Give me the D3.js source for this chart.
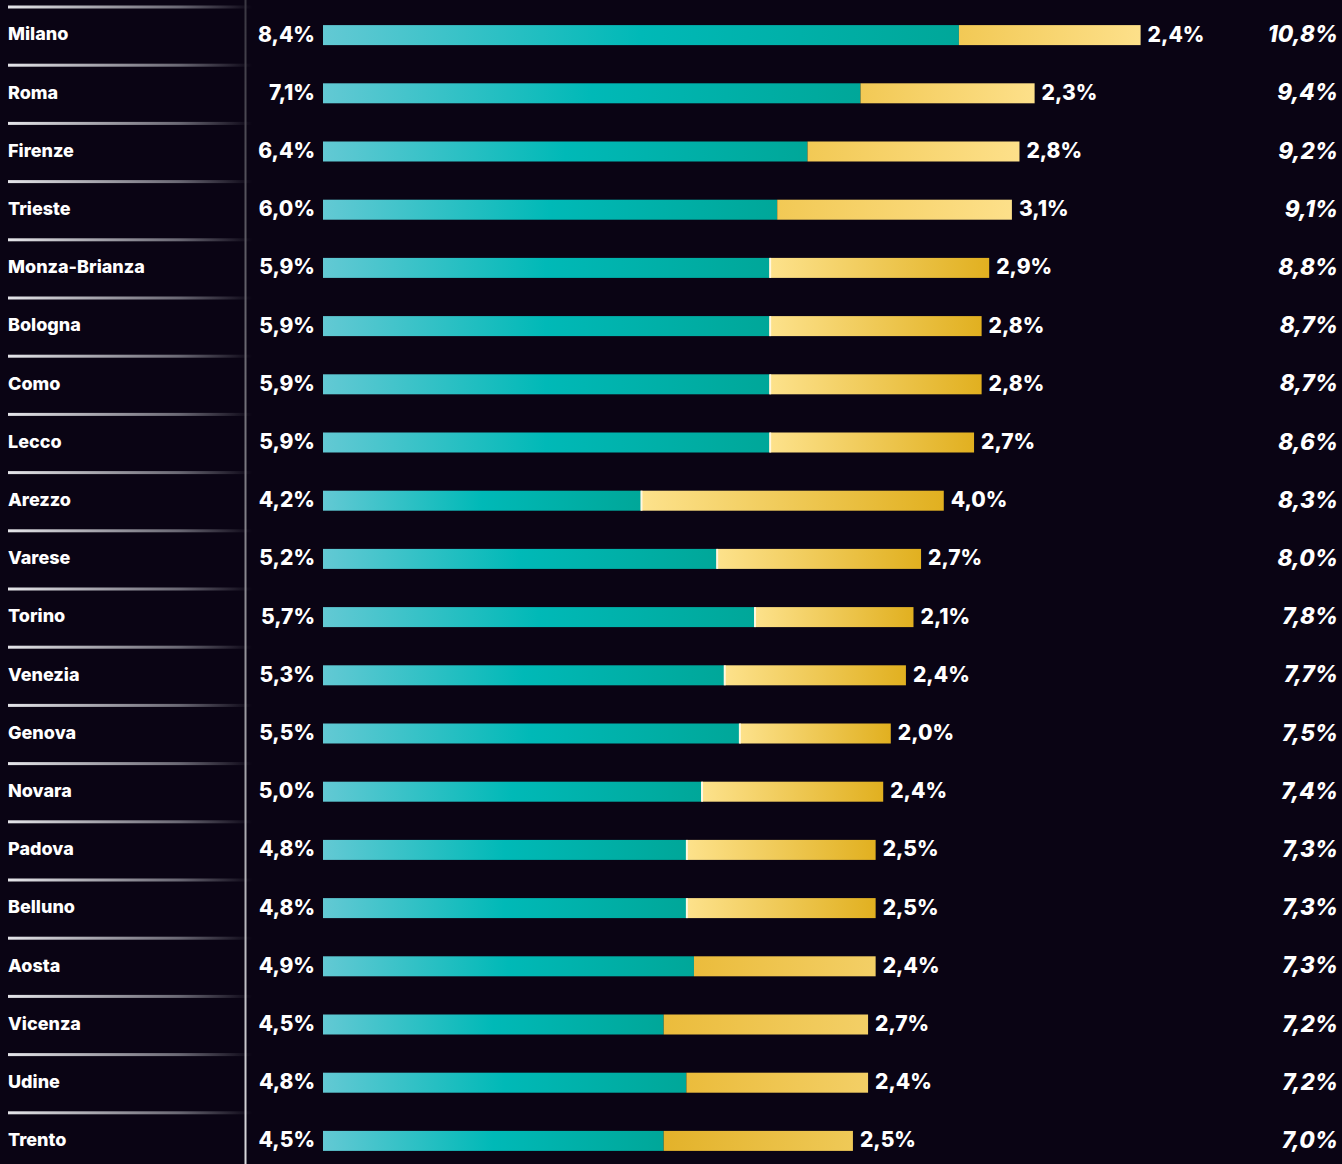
<!DOCTYPE html>
<html lang="it">
<head>
<meta charset="UTF-8">
<title>Province</title>
<script src="https://d3js.org/d3.v7.min.js"></script>
<style>
  html, body { margin: 0; padding: 0; background: #0a0414; }
  svg { display: block; }
</style>
</head>
<body>
<div id="chart"></div>
<script>
// data
const cities = ["Milano", "Roma", "Firenze", "Trieste", "Monza-Brianza", "Bologna", "Como", "Lecco",
  "Arezzo", "Varese", "Torino", "Venezia", "Genova", "Novara", "Padova", "Belluno", "Aosta",
  "Vicenza", "Udine", "Trento"];
const firstShare = [8.4, 7.1, 6.4, 6.0, 5.9, 5.9, 5.9, 5.9, 4.2, 5.2, 5.7, 5.3, 5.5, 5.0, 4.8, 4.8, 4.9, 4.5, 4.8, 4.5];
const secondShare = [2.4, 2.3, 2.8, 3.1, 2.9, 2.8, 2.8, 2.7, 4.0, 2.7, 2.1, 2.4, 2.0, 2.4, 2.5, 2.5, 2.4, 2.7, 2.4, 2.5];
const totals = [10.8, 9.4, 9.2, 9.1, 8.8, 8.7, 8.7, 8.6, 8.3, 8.0, 7.8, 7.7, 7.5, 7.4, 7.3, 7.3, 7.3, 7.2, 7.2, 7.0];

const width = 1342, height = 1164;
const fmt = v => d3.format(".1f")(v).replace(".", ",") + "%";

const svg = d3.select("#chart").append("svg")
  .attr("width", width).attr("height", height);

const defs = svg.append("defs");

function grad(id, stops) {
  const g = defs.append("linearGradient").attr("id", id)
    .attr("x1", "0%").attr("x2", "100%").attr("y1", "0%").attr("y2", "0%");
  stops.forEach(s => g.append("stop").attr("offset", s[0]).attr("stop-color", s[1]));
}
grad("teal", [[0, "#63c9d4"], [0.5, "#00b9b7"], [1, "#00a799"]]);
grad("goldTop", [[0, "#f2c955"], [1, "#fde08a"]]);
grad("goldMid", [[0, "#fde28c"], [1, "#e1b020"]]);
grad("goldLow", [[0, "#ebbc3c"], [1, "#f3cf66"]]);
grad("goldLast", [[0, "#e3b22a"], [1, "#efc957"]]);
grad("rule", [[0, "#e6e6ea"], [0.7, "#6a6874"], [1, "#0a0414"]]);
const vg = defs.append("linearGradient").attr("id", "vrule")
  .attr("x1", "0%").attr("x2", "0%").attr("y1", "0%").attr("y2", "100%");
vg.append("stop").attr("offset", 0).attr("stop-color", "#3a3742");
vg.append("stop").attr("offset", 1).attr("stop-color", "#d8d8dc");

const goldFor = i => i < 4 ? "goldTop" : i < 16 ? "goldMid" : i < 19 ? "goldLow" : "goldLast";

const y = d3.scaleBand().domain(cities).range([6, 6 + cities.length * 58.2]);
const x = d3.scaleLinear().domain([0, 10.8]).range([323, 1140.6]);
const barH = 20;

const rows = svg.selectAll("g.row").data(cities).join("g")
  .attr("class", "row")
  .attr("transform", d => `translate(0,${y(d)})`);

// separator rules
rows.append("rect")
  .attr("x", 8).attr("y", -0.5).attr("width", 244).attr("height", 3)
  .attr("fill", "url(#rule)");

const cy = y.bandwidth() / 2;

rows.append("text")
  .attr("x", 8).attr("y", cy - 1)
  .attr("dy", "0.35em")
  .attr("fill", "#fff")
  .style("font", "800 18px Inter, 'DejaVu Sans', sans-serif")
  .text(d => d);

rows.append("rect")
  .attr("x", x(0)).attr("y", cy - barH / 2)
  .attr("width", (d, i) => x(firstShare[i]) - x(0)).attr("height", barH)
  .attr("fill", "url(#teal)");

rows.append("rect")
  .attr("x", (d, i) => x(firstShare[i])).attr("y", cy - barH / 2)
  .attr("width", (d, i) => x(secondShare[i]) - x(0)).attr("height", barH)
  .attr("fill", (d, i) => `url(#${goldFor(i)})`);

rows.filter((d, i) => i >= 4 && i < 16).append("rect")
  .attr("x", d => x(firstShare[cities.indexOf(d)]) - 0.5).attr("y", cy - barH / 2)
  .attr("width", 2).attr("height", barH)
  .attr("fill", "#fff8e0");

const valFont = "800 21px Inter, 'DejaVu Sans', sans-serif";

rows.append("text")
  .attr("x", 315).attr("y", cy - 1).attr("dy", "0.36em")
  .attr("text-anchor", "end").attr("fill", "#fff")
  .style("font", valFont)
  .text((d, i) => fmt(firstShare[i]));

rows.append("text")
  .attr("x", (d, i) => x(firstShare[i] + secondShare[i]) + 7).attr("y", cy - 1).attr("dy", "0.36em")
  .attr("fill", "#fff")
  .style("font", valFont)
  .text((d, i) => fmt(secondShare[i]));

rows.append("text")
  .attr("x", 1338).attr("y", cy - 1).attr("dy", "0.36em")
  .attr("text-anchor", "end").attr("fill", "#fff")
  .style("font", "italic 800 22.5px Inter, 'DejaVu Sans', sans-serif")
  .text((d, i) => fmt(totals[i]));

// vertical divider
svg.append("rect")
  .attr("x", 244.5).attr("y", 0).attr("width", 2).attr("height", height)
  .attr("fill", "url(#vrule)");
</script>
</body>
</html>
